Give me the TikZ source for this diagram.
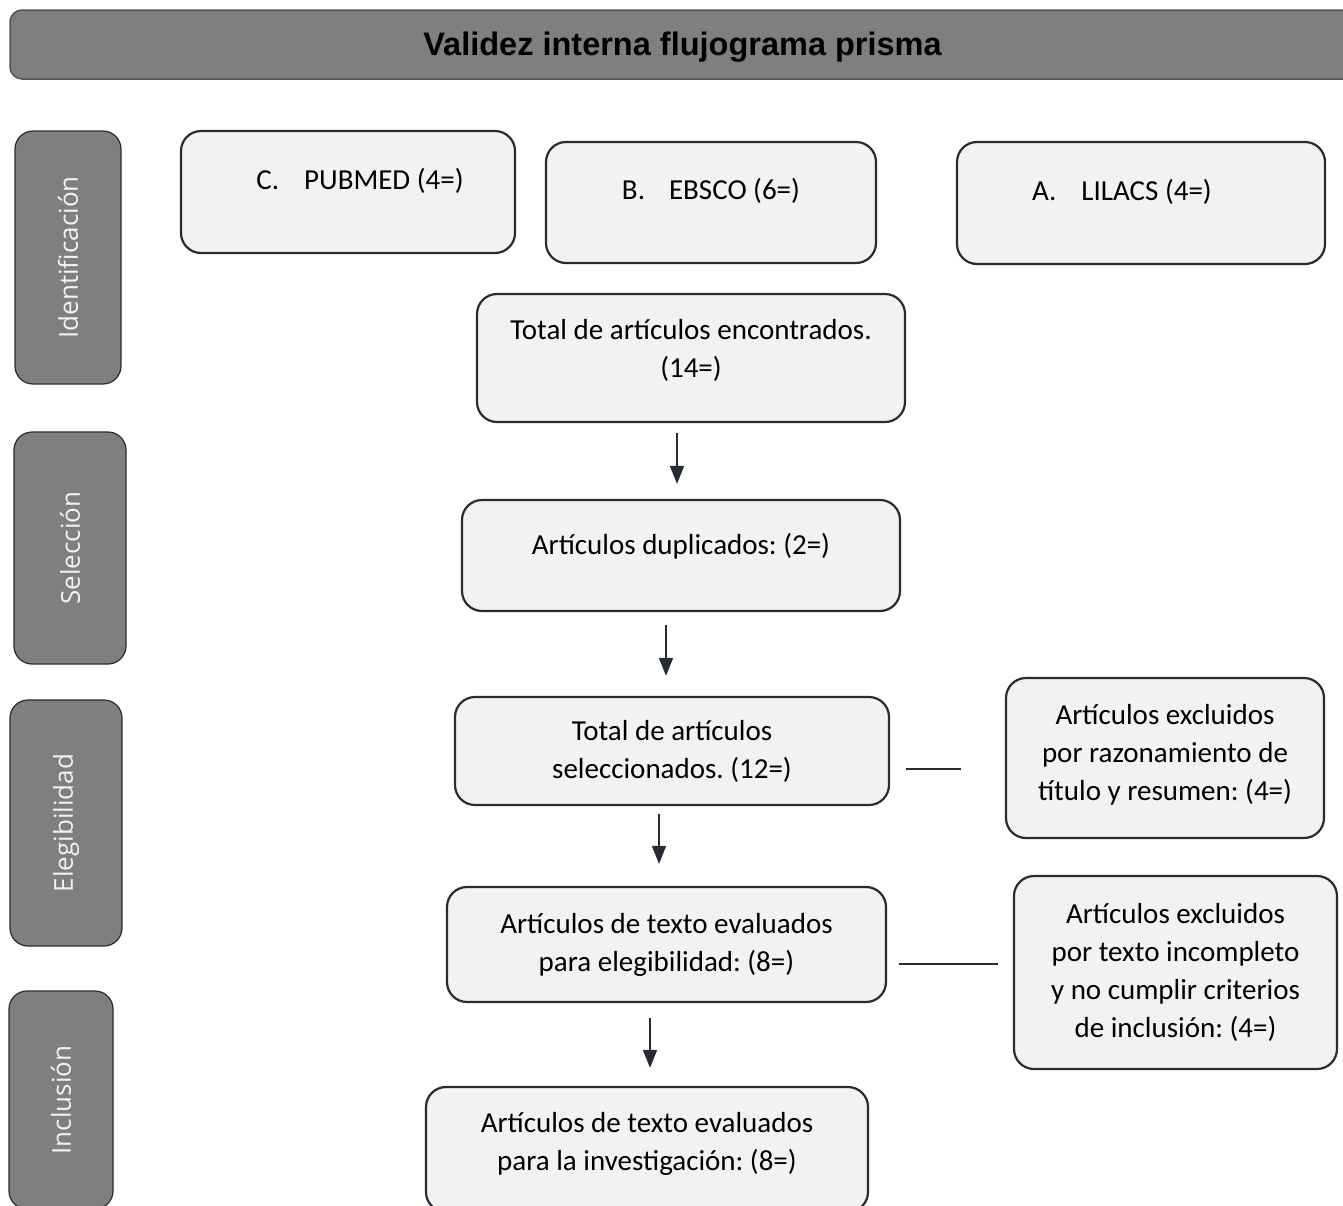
\documentclass[tikz,border=0pt]{standalone}
\usepackage{fontspec}
\setmainfont{Carlito}
\newfontfamily\headfont{Liberation Sans}
\newfontfamily\phasefont{Open Sans}
\usetikzlibrary{arrows.meta, positioning, calc}
\definecolor{boxfill}{HTML}{F2F2F2}
\definecolor{boxline}{HTML}{262B36}
\definecolor{phasegray}{HTML}{7F7F7F}
\frenchspacing
% extra depth below the last line lifts the text inside its box
\newcommand{\padbelow}[1]{\rule[-#1pt]{0pt}{#1pt}}

\begin{document}
\begin{tikzpicture}[x=1pt, y=-1pt,
  box/.style={draw=boxline, line width=2.2pt, fill=boxfill, rounded corners=20pt, align=center, inner sep=0pt, font=\fontsize{29}{38}\selectfont},
  phase/.style={draw=boxline, line width=1.2pt, fill=phasegray, rounded corners=18pt, rotate=90, text=white!95!black, font=\phasefont\fontsize{26}{30}\selectfont},
  title/.style={draw=boxline!80, line width=1.5pt, fill=phasegray, rounded corners=12pt, font=\headfont\bfseries\fontsize{32.5}{36}\selectfont},
  arrow/.style={-{Triangle[length=18pt, width=14pt]}, line width=1.5pt, draw=boxline},
  link/.style={line width=1.3pt, draw=boxline}
]
\useasboundingbox (0,0) rectangle (1343,1205);
\clip (0,0) rectangle (1343,1205);

% Header
\node[title, minimum width=1345, minimum height=69] (head) at (682.5,44.5) {\rule{0pt}{29.5pt}Validez interna flujograma prisma};

% Phases
\node[phase, minimum width=253, minimum height=106] (ident) at (68,257.5) {Identificación};
\node[phase, minimum width=232, minimum height=112] (selec) at (70,548) {Selección};
\node[phase, minimum width=246, minimum height=112] (elegi) at (66,823) {Elegibilidad};
\node[phase, minimum width=218, minimum height=104] (inclu) at (61,1100) {Inclusión};

% Row 1: databases
\node[box, minimum width=334, minimum height=122] (pubmed) at (348,192) {\hspace*{24pt}C.\hspace{25pt}PUBMED (4=)\padbelow{27}};
\node[box, minimum width=330, minimum height=121] (ebsco)  at (711,202.5) {B.\hspace{24pt}EBSCO (6=)\padbelow{28}};
\node[box, minimum width=368, minimum height=122] (lilacs) at (1141,203) {A.\hspace{25pt}LILACS (4=)\hspace*{38pt}\padbelow{27}};

% Main column
\node[box, minimum width=428, minimum height=128] (total) at (691,358) {Total de artículos encontrados.\\(14=)\padbelow{20}};
\node[box, minimum width=438, minimum height=111] (dup)   at (681,555.5) {Artículos duplicados: (2=)\padbelow{24}};
\node[box, minimum width=434, minimum height=108] (sel)   at (672,751) {Total de artículos\\seleccionados. (12=)};
\node[box, minimum width=439, minimum height=115] (eleg)  at (666.5,944.5) {Artículos de texto evaluados\\para elegibilidad: (8=)};
\node[box, minimum width=442, minimum height=125] (inv)   at (647,1149.5) {Artículos de texto evaluados\\para la investigación: (8=)\padbelow{17}};

% Exclusions
\node[box, minimum width=318, minimum height=160] (excl1) at (1165,758) {Artículos excluidos\\por razonamiento de\\título y resumen: (4=)\padbelow{11}};
\node[box, minimum width=323, minimum height=193] (excl2) at (1175.5,972.5) {Artículos excluidos\\por texto incompleto\\y no cumplir criterios\\de inclusión: (4=)};

% Arrows down the column
\draw[arrow, shorten <=10pt, shorten >=15pt] ([xshift=-14pt]total.south) -- ([xshift=-14pt]total.south |- dup.north);
\draw[arrow, shorten <=13pt, shorten >=20pt] ([xshift=-15pt]dup.south) -- ([xshift=-15pt]dup.south |- sel.north);
\draw[arrow, shorten <=8pt, shorten >=22pt] ([xshift=-13pt]sel.south) -- ([xshift=-13pt]sel.south |- eleg.north);
\draw[arrow, shorten <=15pt, shorten >=18pt] ([xshift=-16.5pt]eleg.south) -- ([xshift=-16.5pt]eleg.south |- inv.north);

% Side links
\draw[link, shorten <=16pt, shorten >=44pt] ([yshift=-18pt]sel.east) -- ([yshift=-18pt]sel.east -| excl1.west);
\draw[link, shorten <=12pt, shorten >=15pt] ([yshift=-19.5pt]eleg.east) -- ([yshift=-19.5pt]eleg.east -| excl2.west);

\end{tikzpicture}
\end{document}
